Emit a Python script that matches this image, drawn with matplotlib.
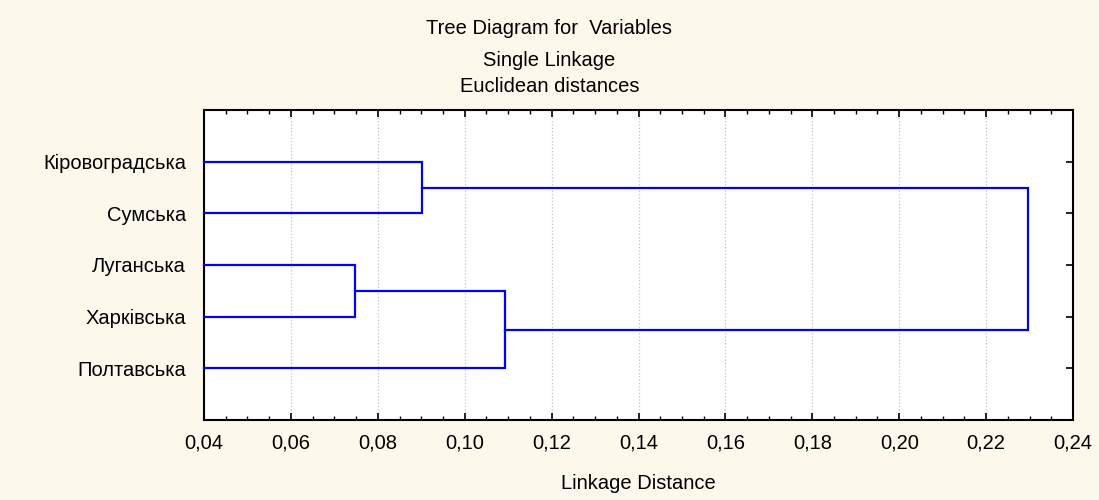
import matplotlib.pyplot as plt
from matplotlib.ticker import MultipleLocator, FuncFormatter

# leaves in the order they appear top to bottom
labels = ['Кіровоградська', 'Сумська', 'Луганська', 'Харківська', 'Полтавська']

# merges: (left cluster, right cluster, linkage distance)
# clusters 0..4 are leaves, 5.. are merged clusters in order
merge_left = [2, 0, 5, 6]
merge_right = [3, 1, 4, 7]
merge_dist = [0.0748, 0.0902, 0.1092, 0.2297]

bg = '#fcf8ec'
blue = '#0000ff'
fs = 14.5

plt.rcParams['font.family'] = ['Liberation Sans', 'DejaVu Sans']

fig = plt.figure(figsize=(10.99, 5.0), dpi=100, facecolor=bg)
ax = fig.add_axes([204 / 1099, 1 - 420 / 500, (1073 - 204) / 1099, (420 - 110) / 500])
ax.set_facecolor('white')

# position (y) and height (x) of every cluster
pos = {i: i + 1 for i in range(len(labels))}
height = {i: 0.0 for i in range(len(labels))}
x_min = 0.04
for k, (a, b, d) in enumerate(zip(merge_left, merge_right, merge_dist)):
    ya, yb = pos[a], pos[b]
    xa, xb = max(height[a], x_min), max(height[b], x_min)
    ax.plot([xa, d, d, xb], [ya, ya, yb, yb], color=blue, lw=1.6,
            solid_joinstyle='miter', clip_on=False, zorder=3)
    new = len(labels) + k
    pos[new] = (ya + yb) / 2
    height[new] = d

ax.set_xlim(0.04, 0.24)
ax.set_ylim(6, 0)
ax.set_yticks(range(1, len(labels) + 1))
ax.set_yticklabels(labels)

ax.xaxis.set_major_locator(MultipleLocator(0.02))
ax.xaxis.set_minor_locator(MultipleLocator(0.005))
ax.xaxis.set_major_formatter(FuncFormatter(lambda v, p: f'{v:.2f}'.replace('.', ',')))

ax.tick_params(axis='both', which='both', direction='in', top=True, right=True,
               labelsize=fs, colors='black')
ax.tick_params(axis='both', which='major', length=5, width=1.2)
ax.tick_params(axis='x', which='minor', length=3, width=1)
ax.tick_params(axis='x', pad=10)
ax.tick_params(axis='y', pad=13)

ax.grid(axis='x', which='major', linestyle=':', color='#c4c4c4', lw=0.9)
for s in ax.spines.values():
    s.set_linewidth(1.5)
    s.set_color('black')

ax.set_xlabel('Linkage Distance', fontsize=fs, labelpad=15)

fig.text(0.5, 1 - 29 / 500, 'Tree Diagram for  Variables', ha='center', va='center', fontsize=fs)
fig.text(0.5, 1 - 61 / 500, 'Single Linkage', ha='center', va='center', fontsize=fs)
fig.text(0.5, 1 - 87 / 500, 'Euclidean distances', ha='center', va='center', fontsize=fs)

fig.savefig('out.png', dpi=100, facecolor=bg)
